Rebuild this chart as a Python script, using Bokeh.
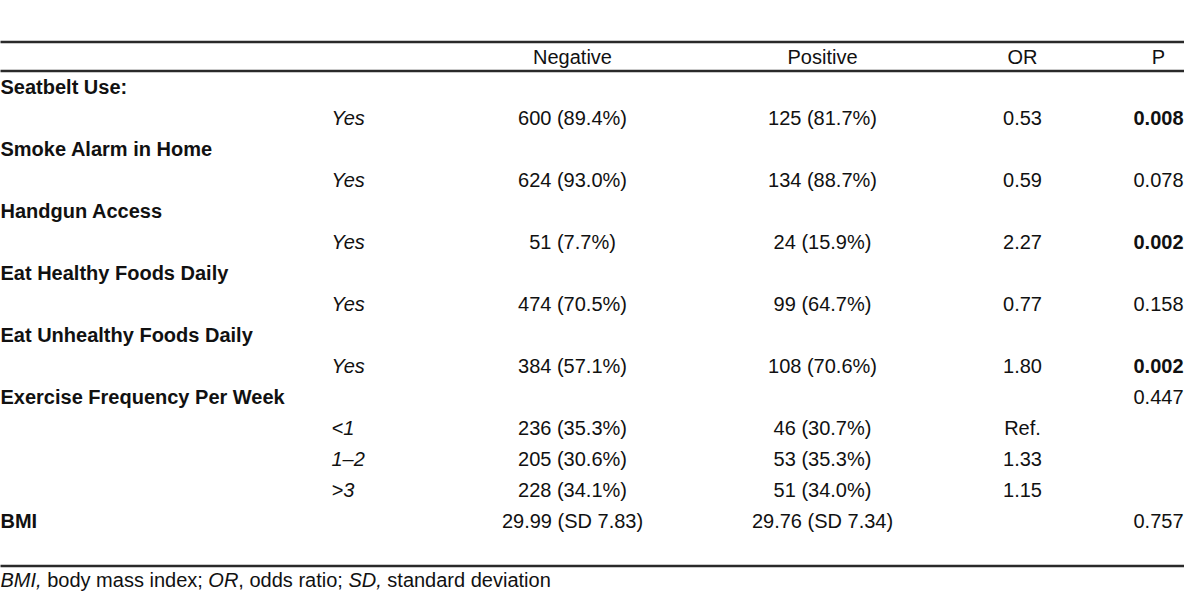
from bokeh.plotting import figure
from bokeh.models import Range1d, ColumnDataSource
from bokeh.core.properties import value
from bokeh.embed import file_html
from bokeh.resources import INLINE

# ---------------- data ----------------
header = ["Negative", "Positive", "OR", "P"]
row_labels = ["Seatbelt Use:", "", "Smoke Alarm in Home", "", "Handgun Access", "",
              "Eat Healthy Foods Daily", "", "Eat Unhealthy Foods Daily", "",
              "Exercise Frequency Per Week", "", "", "", "BMI"]
sub_labels = ["", "Yes", "", "Yes", "", "Yes", "", "Yes", "", "Yes",
              "", "<1", "1\u20132", ">3", ""]
negative = ["", "600 (89.4%)", "", "624 (93.0%)", "", "51 (7.7%)", "", "474 (70.5%)",
            "", "384 (57.1%)", "", "236 (35.3%)", "205 (30.6%)", "228 (34.1%)",
            "29.99 (SD 7.83)"]
positive = ["", "125 (81.7%)", "", "134 (88.7%)", "", "24 (15.9%)", "", "99 (64.7%)",
            "", "108 (70.6%)", "", "46 (30.7%)", "53 (35.3%)", "51 (34.0%)",
            "29.76 (SD 7.34)"]
odds_ratio = ["", "0.53", "", "0.59", "", "2.27", "", "0.77", "", "1.80",
              "", "Ref.", "1.33", "1.15", ""]
p_values = ["", "0.008", "", "0.078", "", "0.002", "", "0.158", "", "0.002",
            "0.447", "", "", "", "0.757"]
p_bold = [False, True, False, False, False, True, False, False, False, True,
          False, False, False, False, False]
footnote = [("BMI,", "italic"), (" body mass index; ", "normal"), ("OR", "italic"),
            (", odds ratio; ", "normal"), ("SD,", "italic"), (" standard deviation", "normal")]

# ---------------- layout ----------------
FONT = "Liberation Sans"
FS = 20
FSS = f"{FS}px"
COLOR = "#111111"

W, H = 1184, 597
p = figure(width=W, height=H, output_backend="svg", toolbar_location=None,
           x_range=Range1d(0, W), y_range=Range1d(H, 0),
           min_border=0, outline_line_color=None)
p.axis.visible = False
p.grid.visible = False
p.background_fill_color = "white"
p.border_fill_color = "white"

# rules
rule_y = [41.5, 70.5, 565.5]
p.segment(x0=[-10] * 3, x1=[W + 10] * 3, y0=rule_y, y1=rule_y,
          line_color="#2a2a2a", line_width=2.5)

X_LABEL, X_SUB, X_NEG, X_POS, X_OR, X_P = 0, 331, 572, 822, 1022, 1158
ROW0, STEP, BASE = 87, 31, -1

def put(x, y, txt, align="left", style="normal"):
    src = ColumnDataSource(dict(x=x, y=y, t=txt))
    p.text("x", "y", text="t", source=src, text_font=value(FONT),
           text_font_size=FSS, text_font_style=style, text_color=COLOR,
           text_align=align, text_baseline="alphabetic")

# header
put([X_NEG, X_POS, X_OR, X_P], [57 + BASE] * 4, header, "center")

ys = [ROW0 + STEP * i + BASE for i in range(len(row_labels))]

def col(vals, mask=None):
    idx = [i for i, v in enumerate(vals) if v and (mask is None or mask[i])]
    return [ys[i] for i in idx], [vals[i] for i in idx]

yy, tt = col(row_labels)
put([X_LABEL] * len(tt), yy, tt, "left", "bold")
yy, tt = col(sub_labels)
put([X_SUB] * len(tt), yy, tt, "left", "italic")
yy, tt = col(negative)
put([X_NEG] * len(tt), yy, tt, "center")
yy, tt = col(positive)
put([X_POS] * len(tt), yy, tt, "center")
yy, tt = col(odds_ratio)
put([X_OR] * len(tt), yy, tt, "center")
yy, tt = col(p_values, p_bold)
put([X_P] * len(tt), yy, tt, "center", "bold")
yy, tt = col(p_values, [not b for b in p_bold])
put([X_P] * len(tt), yy, tt, "center")

# footnote with mixed styles (Arial metrics, 1/1000 em)
WIDTHS = {" ": 278, ",": 278, ";": 278, ".": 278, "a": 556, "b": 556, "d": 556,
          "e": 556, "i": 222, "m": 833, "n": 556, "o": 556, "r": 333, "s": 500,
          "t": 278, "v": 500, "x": 500, "y": 500, "B": 667, "M": 833, "I": 278,
          "O": 778, "R": 722, "S": 667, "D": 722}

def width(s):
    return sum(WIDTHS.get(c, 556) for c in s) * FS / 1000.0

x = 0.0
for seg, style in footnote:
    lead = len(seg) - len(seg.lstrip(" "))
    xs = x + width(seg[:lead])
    put([xs], [580 + BASE], [seg.strip(" ")], "left", style)
    x += width(seg)

open("out.html", "w").write(file_html(p, INLINE))
